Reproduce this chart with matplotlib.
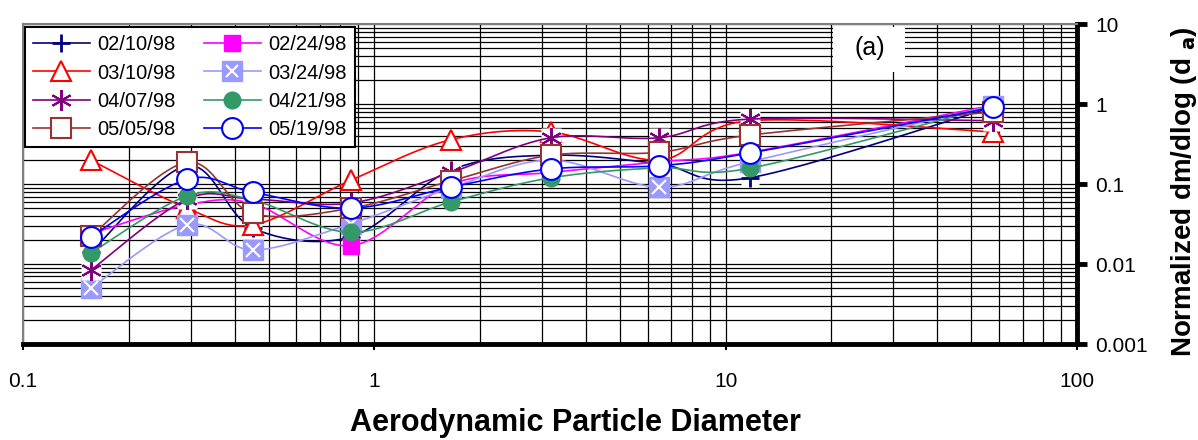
import matplotlib
matplotlib.use("Agg")
import matplotlib.pyplot as plt
import numpy as np
from matplotlib.ticker import LogLocator, FixedLocator, FixedFormatter, NullFormatter
from matplotlib.legend_handler import HandlerLine2D
from matplotlib.lines import Line2D
from matplotlib.patches import Rectangle

plt.rcParams['font.family'] = ['Liberation Sans', 'DejaVu Sans']

# Dados do gráfico
diametro = [0.156, 0.293, 0.452, 0.858, 1.654, 3.18, 6.46, 11.7, 57.7]

d_0210 = [0.014, 0.17, 0.028, 0.022, 0.15, 0.23, 0.18, 0.12, 0.92]
d_0224 = [0.024, 0.055, 0.057, 0.017, 0.10, 0.14, 0.19, 0.25, 0.97]
d_0310 = [0.20, 0.05, 0.031, 0.112, 0.36, 0.45, 0.20, 0.62, 0.45]
d_0324 = [0.005, 0.031, 0.015, 0.032, 0.09, 0.20, 0.092, 0.19, 0.95]
d_0407 = [0.0084, 0.065, 0.065, 0.058, 0.14, 0.38, 0.38, 0.65, 0.62]
d_0421 = [0.0138, 0.071, 0.063, 0.025, 0.06, 0.12, 0.16, 0.158, 0.95]
d_0505 = [0.0224, 0.188, 0.043, 0.05, 0.11, 0.23, 0.25, 0.41, 0.80]
d_0519 = [0.022, 0.115, 0.079, 0.05, 0.092, 0.155, 0.17, 0.245, 0.91]

datas = ['02/10/98', '02/24/98', '03/10/98', '03/24/98',
         '04/07/98', '04/21/98', '05/05/98', '05/19/98']
series = [d_0210, d_0224, d_0310, d_0324, d_0407, d_0421, d_0505, d_0519]

N = 24  # pontos por segmento da curva suavizada


def suavizar(x, y, n=N):
    # curva de Bezier tipo Excel, em espaço log-log
    P = np.column_stack([np.log10(x), np.log10(y)])
    pts = []
    t = np.linspace(0, 1, n, endpoint=False)[:, None]
    for i in range(len(P) - 1):
        p0 = P[i - 1] if i > 0 else P[i]
        p1, p2 = P[i], P[i + 1]
        p3 = P[i + 2] if i + 2 < len(P) else P[i + 1]
        c1 = p1 + (p2 - p0) / 6
        c2 = p2 - (p3 - p1) / 6
        pts.append((1 - t) ** 3 * p1 + 3 * (1 - t) ** 2 * t * c1
                   + 3 * (1 - t) * t ** 2 * c2 + t ** 3 * p2)
    pts.append(P[-1:])
    pts = np.vstack(pts)
    return 10 ** pts[:, 0], 10 ** pts[:, 1]


class HandlerComX(HandlerLine2D):
    # quadrado com um X branco por cima, na legenda
    def create_artists(self, legend, orig_handle, xdescent, ydescent,
                       width, height, fontsize, trans):
        arts = super().create_artists(legend, orig_handle, xdescent, ydescent,
                                      width, height, fontsize, trans)
        cx = width / 2 - xdescent
        cy = height / 2 - ydescent
        xm = Line2D([cx], [cy], ls='none', marker='x', ms=9, mew=1.5,
                    color='white', transform=trans)
        return list(arts) + [xm]


fig = plt.figure(figsize=(11.98, 4.4), dpi=100)
ax = fig.add_axes([0.0192, 0.218, 0.8798, 0.727])

estilos = [
    dict(color='#000080', marker='+', ms=13, mew=2, mfc='#000080', mec='#000080'),
    dict(color='#FF00FF', marker='s', ms=12, mew=1, mfc='#FF00FF', mec='#FF00FF'),
    dict(color='#FF0000', marker='^', ms=14, mew=1.5, mfc='white', mec='#FF0000'),
    dict(color='#9999FF', marker='s', ms=14, mew=1, mfc='#9999FF', mec='#9999FF'),
    dict(color='#800080', marker=(6, 2, 0), ms=15, mew=1.5, mfc='#800080', mec='#800080'),
    dict(color='#339966', marker='o', ms=12, mew=1, mfc='#339966', mec='#339966'),
    dict(color='#993333', marker='s', ms=15, mew=1.5, mfc='white', mec='#993333'),
    dict(color='#0000FF', marker='o', ms=15, mew=1.5, mfc='white', mec='#0000FF'),
]

handles = []
mapa = {}
for i, (nome, valores, est) in enumerate(zip(datas, series, estilos)):
    xs, ys = suavizar(diametro, valores)
    z = 3 + i
    if est['marker'] in ('+', (6, 2, 0)):
        # fundo branco do marcador, como no Excel
        ax.plot(diametro, valores, ls='none', marker='s', ms=est['ms'],
                mfc='white', mec='none', zorder=z)
    ax.plot(xs, ys, lw=1.2, markevery=N, zorder=z, **est)
    h = Line2D([], [], lw=1.2, **est)
    if nome == '03/24/98':
        ax.plot(diametro, valores, ls='none', marker='x', ms=10,
                mew=1.5, color='white', zorder=z + 0.5)
        mapa[h] = HandlerComX()
    handles.append(h)

ax.set_xscale('log')
ax.set_yscale('log')
ax.set_xlim(0.1, 100)
ax.set_ylim(0.001, 10)

# grade
ax.xaxis.set_minor_locator(LogLocator(base=10, subs=np.arange(2, 10)))
ax.yaxis.set_minor_locator(LogLocator(base=10, subs=np.arange(2, 10)))
ax.xaxis.set_minor_formatter(NullFormatter())
ax.yaxis.set_minor_formatter(NullFormatter())
ax.grid(True, which='both', color='black', lw=0.9, zorder=1)
ax.set_axisbelow(True)

# eixos
ax.xaxis.set_major_locator(FixedLocator([0.1, 1, 10, 100]))
ax.xaxis.set_major_formatter(FixedFormatter(['0.1', '1', '10', '100']))
ax.yaxis.set_major_locator(FixedLocator([0.001, 0.01, 0.1, 1, 10]))
ax.yaxis.set_major_formatter(FixedFormatter(['0.001', '0.01', '0.1', '1', '10']))
ax.yaxis.tick_right()
ax.tick_params(axis='x', which='major', direction='out', length=4, width=1.5,
               pad=16, labelsize=15)
ax.tick_params(axis='y', which='major', direction='out', length=7, width=3.5,
               pad=6, labelsize=15)
ax.tick_params(which='minor', length=0)

for lado in ['bottom', 'right']:
    ax.spines[lado].set_linewidth(3.5)
    ax.spines[lado].set_color('black')
for lado in ['top', 'left']:
    ax.spines[lado].set_linewidth(1.5)
    ax.spines[lado].set_color('#808080')

ax.set_xlabel('Aerodynamic Particle Diameter', fontsize=22, fontweight='bold')
ax.xaxis.set_label_coords(0.5237, -0.2)
fig.text(0.9883, 0.5636, r'Normalized dm/dlog (d $_{\mathbf{a}}$)', fontsize=20,
         fontweight='bold', rotation=90, ha='center', va='center')

# caixa "(a)"
ax.add_patch(Rectangle((0.7685, 0.85), 0.068, 0.14, transform=ax.transAxes,
                       facecolor='white', edgecolor='none', zorder=2))
ax.text(0.803, 0.925, '(a)', transform=ax.transAxes, fontsize=18,
        ha='center', va='center', zorder=3)

# legenda preenchida por linhas (como no Excel)
ordem = [0, 2, 4, 6, 1, 3, 5, 7]
leg = ax.legend([handles[k] for k in ordem], [datas[k] for k in ordem], ncol=2,
                loc='upper left', bbox_to_anchor=(0.002, 0.99), borderaxespad=0,
                fontsize=14.5, handlelength=2.8, columnspacing=1.4,
                labelspacing=0.45, handletextpad=0.4, fancybox=False,
                framealpha=1, edgecolor='black', handler_map=mapa)
leg.get_frame().set_linewidth(1.5)
leg.set_zorder(20)

fig.savefig('out.png', dpi=100)
